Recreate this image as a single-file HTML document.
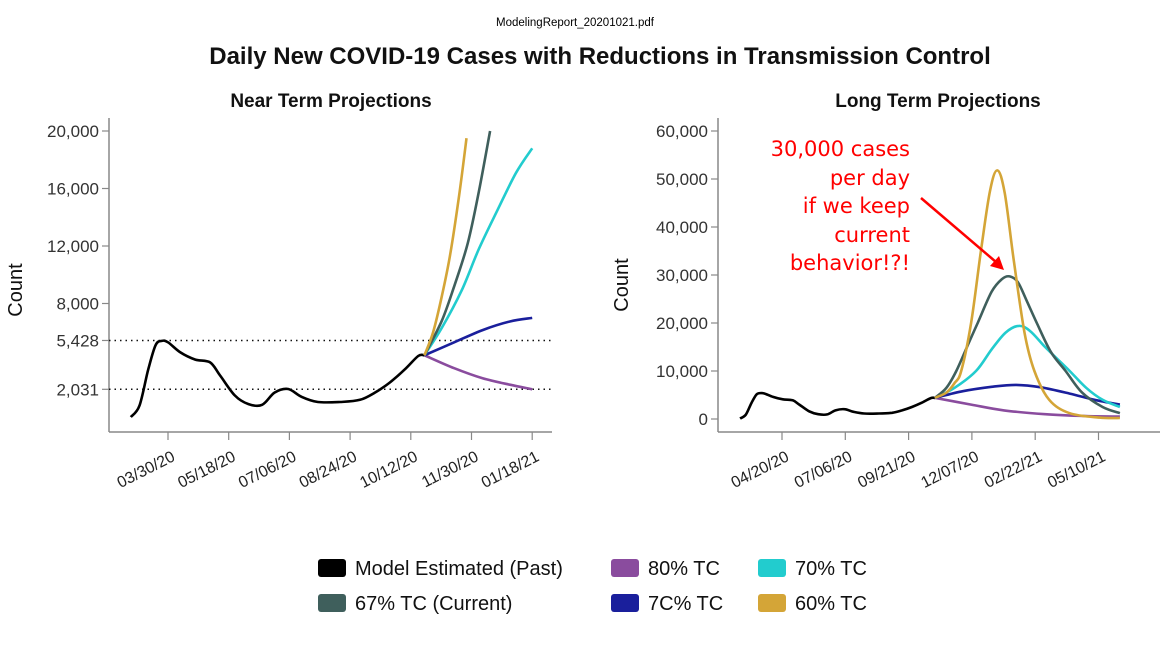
<!DOCTYPE html>
<html><head><meta charset="utf-8">
<style>
body{margin:0;background:#fff;width:1164px;height:655px;overflow:hidden;font-family:"Liberation Sans",Arial,sans-serif}
svg{position:absolute;left:0;top:0}
</style></head>
<body>
<svg id="chart" width="1164" height="655" viewBox="0 0 1164 655">
<text x="575" y="26" font-size="11.5" text-anchor="middle" fill="#000">ModelingReport_20201021.pdf</text>
<text x="600" y="64" font-size="24" font-weight="bold" text-anchor="middle" fill="#111">Daily New COVID-19 Cases with Reductions in Transmission Control</text>
<text x="331" y="107" font-size="19" font-weight="bold" text-anchor="middle" fill="#111">Near Term Projections</text>
<text x="938" y="107" font-size="19" font-weight="bold" text-anchor="middle" fill="#111">Long Term Projections</text>
<g id="left"></g><g id="right"></g>
<g font-family="'DejaVu Sans',sans-serif" font-size="21" fill="#f00" text-anchor="end">
<text x="910" y="156">30,000 cases</text>
<text x="910" y="185">per day</text>
<text x="910" y="213">if we keep</text>
<text x="910" y="242">current</text>
<text x="910" y="270">behavior!?!</text>
</g>
<line x1="921" y1="198" x2="996" y2="262" stroke="#f00" stroke-width="2.5"/>
<polygon points="1004,270 990,266 999,256" fill="#f00"/>
<g id="legend" font-size="20" fill="#111"></g>
</svg>
<script>
const NS="http://www.w3.org/2000/svg";
// day numbers counted from 2020-01-01 (day 0)
const nearTicks=["03/30/20","05/18/20","07/06/20","08/24/20","10/12/20","11/30/20","01/18/21"];
const longTicks=["04/20/20","07/06/20","09/21/20","12/07/20","02/22/21","05/10/21"];
const nearYTicks=[20000,16000,12000,8000,5428,2031];
const longYTicks=[60000,50000,40000,30000,20000,10000,0];
const pastDays=[59,66,73,79,84,89,99,111,123,131,143,154,165,175,186,197,210,228,244,256,268,280,291,296];
const pastVals=[100,900,3400,5100,5400,5300,4600,4100,3900,3000,1600,1000,950,1800,2050,1500,1150,1150,1300,1800,2500,3400,4350,4400];
const near60Days=[296,303,310,317,324,330];
const near60Vals=[4400,6000,8500,11500,15500,19500];
const near67Days=[296,310,320,331,340,349];
const near67Vals=[4400,6800,9200,12200,15800,20000];
const near70Days=[296,310,326,340,355,370,383];
const near70Vals=[4400,6300,8900,11800,14500,17100,18800];
const near7CDays=[296,320,343,365,383];
const near7CVals=[4400,5300,6150,6750,7000];
const near80Days=[296,320,343,365,383];
const near80Vals=[4400,3500,2800,2350,2031];
const long60Days=[296,310,320,328,340,352,363,372,381,392,405,417,435,460,496,521];
const long60Vals=[4400,5500,7500,10000,20000,35000,47500,51800,47000,33000,18000,10000,4000,1200,300,200];
const long67Days=[296,310,322,335,348,365,378,387,397,408,420,437,455,475,500,521];
const long67Vals=[4400,6500,10000,15000,20000,26500,29200,29700,28500,24500,20000,14000,10000,5500,2500,1200];
const long70Days=[296,320,346,365,382,398,412,430,445,460,480,500,521];
const long70Vals=[4400,6500,10000,14500,18000,19400,18300,15000,12500,10000,6500,4000,2500];
const long7CDays=[296,330,365,395,425,460,490,521];
const long7CVals=[4400,5800,6700,7100,6600,5300,4000,3000];
const long80Days=[296,340,380,430,480,521];
const long80Vals=[4400,3000,1800,1000,600,500];

const C={past:"#000",p80:"#8A4C9E",p70:"#22CCCE",p67:"#3F5F5C",p7c:"#1A1F9C",p60:"#D4A537"};
function dayOf(s){const[m,d,y]=s.split("/").map(Number);return Math.round((Date.UTC(2000+y,m-1,d)-Date.UTC(2020,0,1))/864e5);}
function el(tag,attrs,parent){const e=document.createElementNS(NS,tag);for(const k in attrs)e.setAttribute(k,attrs[k]);parent.appendChild(e);return e;}
function smooth(pts){let d="M"+pts[0][0]+","+pts[0][1];for(let i=0;i<pts.length-1;i++){const p0=pts[Math.max(0,i-1)],p1=pts[i],p2=pts[i+1],p3=pts[Math.min(pts.length-1,i+2)];
const c1=[p1[0]+(p2[0]-p0[0])/6,p1[1]+(p2[1]-p0[1])/6],c2=[p2[0]-(p3[0]-p1[0])/6,p2[1]-(p3[1]-p1[1])/6];
d+=" C"+c1[0].toFixed(1)+","+c1[1].toFixed(1)+" "+c2[0].toFixed(1)+","+c2[1].toFixed(1)+" "+p2[0].toFixed(1)+","+p2[1].toFixed(1);}return d;}

function panel(g,cfg){
  const x=d=>cfg.x0+(d-cfg.d0)*cfg.pxDay, y=v=>cfg.y0-v*cfg.pxVal;
  let a=el("line",{x1:cfg.ax,y1:cfg.top,x2:cfg.ax,y2:cfg.bot,stroke:"#888","stroke-width":1.5},g);
  
  a=el("line",{x1:cfg.ax,y1:cfg.bot,x2:cfg.right,y2:cfg.bot,stroke:"#888","stroke-width":1.5},g);
  
  cfg.yt.forEach(v=>{const yy=y(v);
    let t=el("line",{x1:cfg.ax-7,y1:yy,x2:cfg.ax,y2:yy,stroke:"#888","stroke-width":1.2},g);
    
    t=el("text",{x:cfg.ax-10,y:yy+6,"font-size":17,"text-anchor":"end",fill:"#333"},g);t.textContent=v.toLocaleString("en-US");
    
  });
  cfg.xt.forEach(s=>{const xx=x(dayOf(s));
    let t=el("line",{x1:xx,y1:cfg.bot,x2:xx,y2:cfg.bot+8,stroke:"#888","stroke-width":1.2},g);
    
    t=el("text",{x:xx+8,y:cfg.bot+28,"font-size":16,"text-anchor":"end",fill:"#222",transform:`rotate(-27 ${xx+8} ${cfg.bot+28})`},g);t.textContent=s;
    
  });
  let lab=el("text",{x:cfg.labX,y:cfg.labY,"font-size":20,"text-anchor":"middle",fill:"#111",transform:`rotate(-90 ${cfg.labX} ${cfg.labY})`},g);
  lab.textContent="Count";
  if(cfg.dots)cfg.dots.forEach(v=>{let l=el("line",{x1:cfg.ax,y1:y(v),x2:cfg.right,y2:y(v),stroke:"#111","stroke-width":1.5,"stroke-dasharray":"1.5,4"},g);
    });
  const cid="clip"+cfg.id;const cp=el("clipPath",{id:cid},g);el("rect",{x:cfg.ax,y:cfg.top,width:cfg.right-cfg.ax,height:cfg.bot-cfg.top},cp);
  cfg.series.forEach(s=>{const pts=s.d.map((d,i)=>[x(d),y(Math.min(s.v[i],cfg.cap))]);
    const p=el("path",{d:smooth(pts),fill:"none",stroke:s.c,"stroke-width":2.6,"stroke-linejoin":"round","clip-path":`url(#${cid})`},g);
    });
}
panel(document.getElementById("left"),{id:"L",x0:168,d0:dayOf("03/30/20"),pxDay:60.7/49,y0:418.5,pxVal:57.5/4000,ax:109,top:118,bot:432,right:552,
  yt:nearYTicks,xt:nearTicks,labX:22,labY:290,dots:[5428,2031],cap:20000,
  series:[{n:"past-line",d:pastDays,v:pastVals,c:C.past},{n:"tc80-line",d:near80Days,v:near80Vals,c:C.p80},{n:"tc7c-line",d:near7CDays,v:near7CVals,c:C.p7c},
  {n:"tc70-line",d:near70Days,v:near70Vals,c:C.p70},{n:"tc67-line",d:near67Days,v:near67Vals,c:C.p67},{n:"tc60-line",d:near60Days,v:near60Vals,c:C.p60}]});
panel(document.getElementById("right"),{id:"R",x0:782,d0:dayOf("04/20/20"),pxDay:63.3/77,y0:419,pxVal:48/10000,ax:718,top:118,bot:432,right:1160,
  yt:longYTicks,xt:longTicks,labX:628,labY:285,cap:1e9,
  series:[{n:"past-line",d:pastDays,v:pastVals,c:C.past},{n:"tc80-line",d:long80Days,v:long80Vals,c:C.p80},{n:"tc7c-line",d:long7CDays,v:long7CVals,c:C.p7c},
  {n:"tc70-line",d:long70Days,v:long70Vals,c:C.p70},{n:"tc67-line",d:long67Days,v:long67Vals,c:C.p67},{n:"tc60-line",d:long60Days,v:long60Vals,c:C.p60}]});
const legendItems=[["Model Estimated (Past)",C.past,318,568],["80% TC",C.p80,611,568],["70% TC",C.p70,758,568],
["67% TC (Current)",C.p67,318,603],["7C% TC",C.p7c,611,603],["60% TC",C.p60,758,603]];
const lg=document.getElementById("legend");
legendItems.forEach(it=>{const g=el("g",{},lg);
  
  el("rect",{x:it[2],y:it[3]-9,width:28,height:18,rx:3,fill:it[1]},g);
  const t=el("text",{x:it[2]+37,y:it[3]+7},g);t.textContent=it[0];});
</script>
</body></html>
